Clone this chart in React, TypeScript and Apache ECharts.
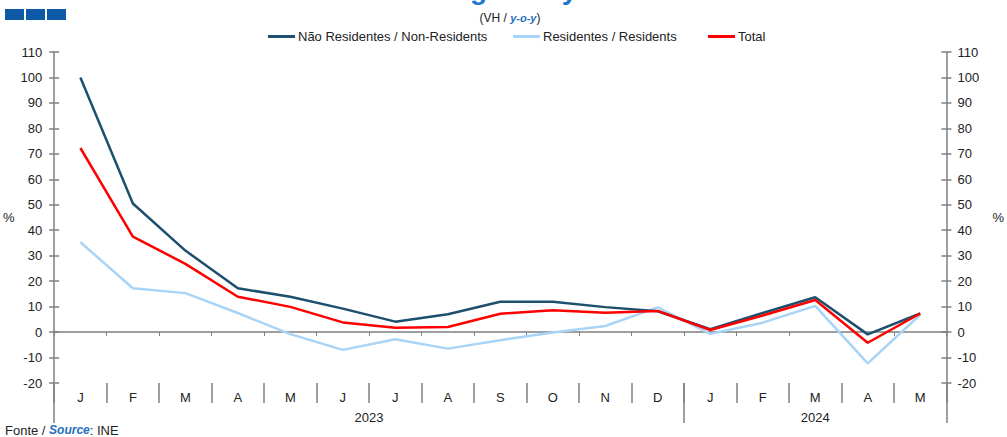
import React, { useEffect, useRef } from "react";
import * as echarts from "echarts";

const months = ["J", "F", "M", "A", "M", "J", "J", "A", "S", "O", "N", "D", "J", "F", "M", "A", "M"];
const years = ["2023", "2024"];
const monthsPerYear = [12, 5];
const nonResidents = [100, 50.5, 32, 17.2, 13.9, 9.2, 4.1, 7, 11.9, 11.9, 9.8, 8.2, 1.1, 7.5, 13.7, -0.9, 7.3];
const residents = [35.3, 17.2, 15.3, 7.5, -0.8, -7, -2.8, -6.5, -3.2, -0.2, 2.4, 9.7, -0.7, 3.7, 10.3, -12.3, 6.8];
const total = [72.3, 37.5, 26.8, 13.9, 9.9, 3.8, 1.7, 2, 7.2, 8.6, 7.6, 8.3, 0.8, 6.5, 12.6, -4.2, 7.3];
const seriesNames = ["Não Residentes / Non-Residents", "Residentes / Residents", "Total"];
const seriesColors = ["#1d4f6e", "#a8d4f7", "#ff0000"];
const yMin = -20;
const yMax = 110;
const yStep = 10;

const FONT = "Liberation Sans, Arial, sans-serif";
const GRAY = "#7f7f7f";
const BLUE = "#1f6fc0";

export default function App() {
  const ref = useRef<HTMLDivElement>(null);
  useEffect(() => {
    if (!ref.current) return;
    const chart = echarts.init(ref.current, null, { renderer: "svg" });

    const boundaries: number[] = [0];
    const yearCenters: number[] = [];
    let acc = 0;
    monthsPerYear.forEach((n) => {
      yearCenters.push(acc + n / 2);
      acc += n;
      boundaries.push(acc);
    });

    const yAxisBase = {
      type: "value",
      min: yMin,
      max: yMax,
      interval: yStep,
      splitLine: { show: false },
    };

    const option: any = {
      animation: false,
      textStyle: { fontFamily: FONT },
      grid: { left: 54, right: 53, top: 52, bottom: 54, containLabel: false },
      legend: seriesNames.map((n, i) => ({
        data: [n],
        left: [263, 508, 703][i],
        top: 25,
        icon: "rect",
        itemWidth: 27,
        itemHeight: 3,
        itemGap: 0,
        textStyle: { fontSize: 13, color: "#222", fontFamily: FONT, padding: [0, 0, 0, -2] },
      })),
      xAxis: [
        {
          type: "category",
          data: months,
          boundaryGap: true,
          axisLine: { show: true, onZero: true, onZeroAxisIndex: 0, lineStyle: { color: GRAY, width: 1.5 } },
          axisTick: { show: true, alignWithLabel: false, length: 4, lineStyle: { color: GRAY } },
          axisLabel: { show: false },
          splitLine: { show: false },
          z: 1,
        },
        {
          type: "category",
          data: months,
          position: "bottom",
          boundaryGap: true,
          axisLine: { show: false, onZero: false },
          axisTick: { show: true, alignWithLabel: false, length: 20, lineStyle: { color: GRAY, width: 1.5 } },
          axisLabel: { show: true, margin: 8, fontSize: 13, color: "#222", fontFamily: FONT },
          splitLine: { show: false },
        },
        {
          type: "value",
          min: 0,
          max: months.length,
          position: "bottom",
          axisLine: { show: false, onZero: false },
          axisTick: { show: true, customValues: boundaries, length: 40, lineStyle: { color: GRAY, width: 1.5 } },
          axisLabel: {
            show: true,
            customValues: yearCenters,
            margin: 28,
            fontSize: 13,
            color: "#222",
            fontFamily: FONT,
            formatter: (v: number) => {
              const i = yearCenters.findIndex((c) => Math.abs(c - v) < 1e-6);
              return i >= 0 ? years[i] : "";
            },
          },
          splitLine: { show: false },
        },
      ],
      yAxis: [
        {
          ...yAxisBase,
          position: "left",
          name: "%",
          nameLocation: "middle",
          nameRotate: 0,
          nameGap: 39,
          nameTextStyle: { fontSize: 13, color: "#222", fontFamily: FONT },
          axisLine: { show: true, lineStyle: { color: GRAY, width: 1.5 } },
          axisTick: { show: true, length: 5, lineStyle: { color: GRAY, width: 1.5 } },
          axisLabel: { margin: 12, fontSize: 13, color: "#222", fontFamily: FONT },
        },
        {
          ...yAxisBase,
          position: "right",
          name: "%",
          nameLocation: "middle",
          nameRotate: 0,
          nameGap: 46,
          nameTextStyle: { fontSize: 13, color: "#222", fontFamily: FONT },
          axisLine: { show: true, lineStyle: { color: GRAY, width: 1.5 } },
          axisTick: { show: true, length: 5, lineStyle: { color: GRAY, width: 1.5 } },
          axisLabel: { margin: 11, fontSize: 13, color: "#222", fontFamily: FONT },
        },
        {
          ...yAxisBase,
          position: "left",
          axisLine: { show: false },
          axisTick: { show: true, inside: true, length: 5, lineStyle: { color: GRAY, width: 1.5 } },
          axisLabel: { show: false },
        },
        {
          ...yAxisBase,
          position: "right",
          axisLine: { show: false },
          axisTick: { show: true, inside: true, length: 5, lineStyle: { color: GRAY, width: 1.5 } },
          axisLabel: { show: false },
        },
      ],
      series: [nonResidents, residents, total].map((d, i) => ({
        name: seriesNames[i],
        type: "line",
        data: d,
        xAxisIndex: 0,
        yAxisIndex: 0,
        showSymbol: false,
        symbol: "none",
        color: seriesColors[i],
        lineStyle: { width: 2.5, color: seriesColors[i] },
        z: 3 + (i === 1 ? 0 : i === 0 ? 1 : 2),
      })),
      graphic: [
        { type: "rect", shape: { x: 5, y: 9, width: 19, height: 11 }, style: { fill: "#0d5ba6" } },
        { type: "rect", shape: { x: 26, y: 9, width: 19, height: 11 }, style: { fill: "#0d5ba6" } },
        { type: "rect", shape: { x: 47, y: 9, width: 19, height: 11 }, style: { fill: "#0d5ba6" } },
        {
          type: "text",
          x: 487,
          y: -11,
          style: {
            text: "Overnight stays",
            font: `bold 28px ${FONT}`,
            fill: "#1f78c8",
            align: "center",
            verticalAlign: "middle",
          },
        },
        {
          type: "text",
          x: 510,
          y: 18,
          style: {
            text: "{a|(VH / }{b|y-o-y}{a|)}",
            align: "center",
            verticalAlign: "middle",
            rich: {
              a: { fontSize: 12, fontFamily: FONT, fill: "#222", color: "#222" },
              b: { fontSize: 11, fontFamily: FONT, fontWeight: "bold", fontStyle: "italic", fill: BLUE, color: BLUE },
            },
          },
        },
        {
          type: "text",
          x: 5,
          y: 430,
          style: {
            text: "{a|Fonte / }{b|Source}{a|: INE}",
            align: "left",
            verticalAlign: "middle",
            rich: {
              a: { fontSize: 13, fontFamily: FONT, fill: "#222", color: "#222" },
              b: { fontSize: 12, fontFamily: FONT, fontWeight: "bold", fontStyle: "italic", fill: BLUE, color: BLUE },
            },
          },
        },
      ],
    };
    chart.setOption(option);
    return () => chart.dispose();
  }, []);
  return (
    <div
      ref={ref}
      style={{ position: "fixed", left: 0, top: 0, width: 1007, height: 437, background: "#fff" }}
    />
  );
}
